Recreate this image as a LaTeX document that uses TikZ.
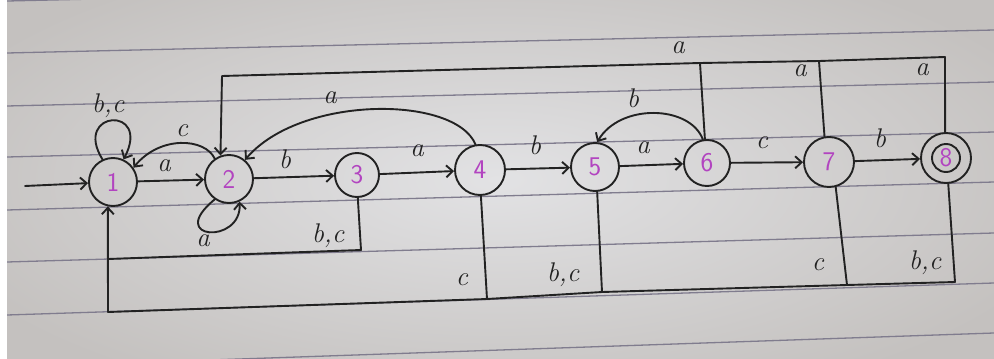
\documentclass[tikz,border=0pt]{standalone}
\usetikzlibrary{arrows.meta}
\definecolor{ink}{RGB}{34,34,34}
\definecolor{rule}{RGB}{128,124,142}
\definecolor{digit}{RGB}{178,68,192}
\definecolor{paperA}{RGB}{226,226,228}
\definecolor{paperB}{RGB}{196,193,191}

\begin{document}
\begin{tikzpicture}[x=1pt,y=-1pt,
  pen/.style={draw=ink, line width=1.9pt, line join=round, line cap=round},
  arr/.style={pen, -{Straight Barb[length=6.5pt,width=12pt]}},
  state/.style={circle, draw=ink, line width=1.9pt, inner sep=0pt,
    minimum size=#1, font=\fontsize{27}{29}\selectfont\sffamily, text=digit},
  state/.default=48pt,
  lbl/.style={font=\fontsize{27}{29}\selectfont\itshape, text=ink, inner sep=0pt},
  ruling/.style={draw=rule, line width=1.3pt}]

\useasboundingbox (0,0) rectangle (994,359);

% ruled notebook paper
\begin{scope}
  \clip (0,0) rectangle (994,359);
  \shade[inner color=paperA, outer color=paperB] (-100,-60) rectangle (1094,419);
  \foreach \l/\r in {1/-21, 53/30, 106/82, 157/132, 210/182, 262/233, 315/283, 367/333}
    \draw[ruling] (7,\l) -- (994,\r);
  \fill[white] (0,0) rectangle (7,359);
\end{scope}

% states
\node[state] (n1) at (113,182) {1};
\node[state] (n2) at (229,179) {2};
\node[state=44pt] (n3) at (357,175) {3};
\node[state=50pt] (n4) at (480,170) {4};
\node[state] (n5) at (595,167) {5};
\node[state=46pt] (n6) at (707,163) {6};
\node[state=50pt] (n7) at (829,162) {7};
\node[state=50pt] (n8) at (946,158) {};
\node[state=28pt] (n8i) at (n8) {8};

% main chain
\coordinate (start) at (25,186);
\draw[arr] (start) -- (n1);
\draw[arr] (n1) -- (n2);
\draw[arr] (n2) -- (n3);
\draw[arr] (n3) -- (n4);
\draw[arr] (n4) -- (n5);
\draw[arr] (n5) -- (n6);
\draw[arr] (n6) -- (n7);
\draw[arr] (n7) -- (n8);

% loops and back arcs
\draw[arr] (n1.115) .. controls (72,110) and (152,105) .. (n1.65);
\draw[arr] (n2.235) .. controls (165,240) and (242,245) .. (n2.295);
\draw[arr] (n2.125) .. controls (205,138) and (160,135) .. (n1.35);
\draw[arr] (n4.100) .. controls (455,95) and (300,95) .. (n2.50);
\draw[arr] (n6.100) .. controls (690,105) and (620,103) .. (n5.85);

% upper return bus to state 2
\coordinate (t2) at (222,76);
\coordinate (t6) at (700,63);
\coordinate (t7) at (819,61);
\coordinate (t8) at (945,57);
\draw[arr] (n6.95) -- (t6) -- (t2) -- (n2.110);
\draw[pen] (n7.100) -- (t7) -- (t6);
\draw[pen] (n8.92) -- (t8) -- (t7);

% lower return bus to state 1
\coordinate (bL) at (108,312);
\coordinate (b1) at (108,259);
\coordinate (b3) at (361,250);
\coordinate (b4) at (487,299);
\coordinate (b5) at (602,292);
\coordinate (b7) at (847,285);
\coordinate (b8) at (955,282);
\draw[arr] (bL) -- (n1.258);
\draw[pen] (n3.272) -- (b3) -- (b1);
\draw[pen] (bL) -- (b4) -- (b5) -- (b7) -- (b8);
\draw[pen] (n4.272) -- (b4);
\draw[pen] (n5.275) -- (b5);
\draw[pen] (n7.285) -- (b7);
\draw[pen] (n8.275) -- (b8);

% transition labels
\node[lbl] (l11) at (108,106) {b,c};
\node[lbl] (l21) at (182,131) {c};
\node[lbl] (l12) at (164,166) {a};
\node[lbl] (l22) at (203,241) {a};
\node[lbl] (l23) at (285,159) {b};
\node[lbl] (l31) at (328,236) {b,c};
\node[lbl] (l42) at (330,98) {a};
\node[lbl] (l34) at (417,151) {a};
\node[lbl] (l45) at (535,145) {b};
\node[lbl] (l56) at (643,148) {a};
\node[lbl] (l65) at (633,98) {b};
\node[lbl] (l67) at (762,143) {c};
\node[lbl] (l78) at (880,138) {b};
\node[lbl] (l62) at (678,48) {a};
\node[lbl] (l72) at (800,71) {a};
\node[lbl] (l82) at (922,70) {a};
\node[lbl] (l41) at (462,280) {c};
\node[lbl] (l51) at (563,275) {b,c};
\node[lbl] (l71) at (818,265) {c};
\node[lbl] (l81) at (925,263) {b,c};
\end{tikzpicture}
\end{document}
